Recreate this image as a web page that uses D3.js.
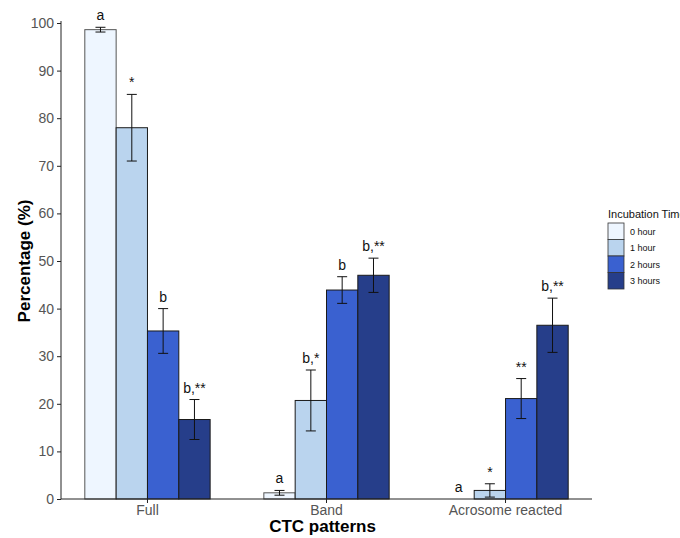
<!DOCTYPE html>
<html>
<head>
<meta charset="utf-8">
<script src="https://cdn.jsdelivr.net/npm/d3@7"></script>
<style>
  body { margin: 0; background: #fff; }
  text { font-family: Arial, "Liberation Sans", sans-serif; }
</style>
</head>
<body>
<div class="canvas"></div>
<script>
// data
const patterns = ['Full', 'Band', 'Acrosome reacted']
const times = ['0 hour', '1 hour', '2 hours', '3 hours']
const colors = ['#eef6ff', '#bad4ee', '#3a61d0', '#263e8a']

// mean per pattern, one array per time
const means = [
  [98.6, 1.3, 0],
  [78.0, 20.7, 1.8],
  [35.3, 43.9, 21.1],
  [16.7, 47.0, 36.5]
]
const errs = [
  [0.5, 0.5, 0],
  [7.0, 6.4, 1.4],
  [4.7, 2.8, 4.2],
  [4.2, 3.6, 5.7]
]
const letters = [
  ['a', 'a', 'a'],
  ['*', 'b,*', '*'],
  ['b', 'b', '**'],
  ['b,**', 'b,**', 'b,**']
]
const yTicks = [0, 10, 20, 30, 40, 50, 60, 70, 80, 90, 100]

const width = 680, height = 538
const margin = {top: 23, left: 61, right: 88, bottom: 39}

const svg = d3.select('.canvas').append('svg')
    .attr('width', width)
    .attr('height', height)

const y = d3.scaleLinear()
    .domain([0, 100])
    .range([height - margin.bottom, margin.top])

const x = d3.scaleBand()
    .domain(patterns)
    .range([margin.left, width - margin.right])
    .paddingInner(0.3)
    .paddingOuter(0.133)

const xs = d3.scaleBand()
    .domain(times)
    .range([0, x.bandwidth()])

// flatten into rows
const rows = []
patterns.forEach((p, pi) => {
  times.forEach((t, ti) => {
    rows.push({p, t, ti, m: means[ti][pi], e: errs[ti][pi], lab: letters[ti][pi]})
  })
})

const graph = svg.append('g')

graph.selectAll('rect.bar')
  .data(rows.filter(d => d.m > 0))
  .enter().append('rect')
    .attr('class', 'bar')
    .attr('x', d => x(d.p) + xs(d.t))
    .attr('y', d => y(d.m))
    .attr('width', xs.bandwidth())
    .attr('height', d => y(0) - y(d.m))
    .attr('fill', d => colors[d.ti])
    .attr('stroke', d => d.ti == 0 ? '#555' : '#1a1a1a')
    .attr('stroke-width', 1)

//error bars
const eb = graph.selectAll('g.err')
  .data(rows.filter(d => d.e > 0))
  .enter().append('g')
    .attr('class', 'err')
    .attr('stroke', '#111')
    .attr('stroke-width', 1)
const cx = d => x(d.p) + xs(d.t) + xs.bandwidth() / 2
eb.append('line')
    .attr('x1', cx).attr('x2', cx)
    .attr('y1', d => y(d.m + d.e)).attr('y2', d => y(Math.max(0, d.m - d.e)))
eb.append('line')
    .attr('x1', d => cx(d) - 5).attr('x2', d => cx(d) + 5)
    .attr('y1', d => y(d.m + d.e)).attr('y2', d => y(d.m + d.e))
eb.append('line')
    .attr('x1', d => cx(d) - 5).attr('x2', d => cx(d) + 5)
    .attr('y1', d => y(Math.max(0, d.m - d.e))).attr('y2', d => y(Math.max(0, d.m - d.e)))

// significance letters
graph.selectAll('text.lab')
  .data(rows)
  .enter().append('text')
    .attr('class', 'lab')
    .attr('x', cx)
    .attr('y', d => y(d.m + d.e) - 7)
    .attr('text-anchor', 'middle')
    .attr('font-size', 14)
    .attr('fill', '#111')
    .text(d => d.lab)

// axes
const yAxis = d3.axisLeft(y).tickValues(yTicks).tickSize(4).tickPadding(3)
const xAxis = d3.axisBottom(x).tickSize(4).tickPadding(2)

const gy = svg.append('g')
    .attr('transform', `translate(${margin.left},0)`)
    .call(yAxis)
gy.select('.domain').attr('d', `M0,${y(0)}V${margin.top - 2}`)

const gx = svg.append('g')
    .attr('transform', `translate(0,${y(0)})`)
    .call(xAxis)
gx.select('.domain').attr('d', `M${margin.left},0H${width - margin.right}`)

svg.selectAll('.tick text').attr('font-size', 14).attr('fill', '#555')
svg.selectAll('.tick line, .domain').attr('stroke', '#222')

svg.append('text')
    .attr('x', (margin.left + width - margin.right) / 2 - 4)
    .attr('y', 532)
    .attr('text-anchor', 'middle')
    .attr('font-size', 17)
    .attr('font-weight', 'bold')
    .text('CTC patterns')

svg.append('text')
    .attr('transform', `translate(30,${y(50)}) rotate(-90)`)
    .attr('text-anchor', 'middle')
    .attr('font-size', 17)
    .attr('font-weight', 'bold')
    .text('Percentage (%)')

// legend
const legend = svg.append('g').attr('transform', 'translate(608,223)')
legend.append('text')
    .attr('x', 0).attr('y', -5)
    .attr('font-size', 11)
    .attr('fill', '#111')
    .text('Incubation Time')
const item = legend.selectAll('g.item')
  .data(times)
  .enter().append('g')
    .attr('transform', (d, i) => `translate(0,${i * 16.5})`)
item.append('rect')
    .attr('width', 16).attr('height', 16.5)
    .attr('fill', (d, i) => colors[i])
    .attr('stroke', '#333')
    .attr('stroke-width', 0.8)
item.append('text')
    .attr('x', 22).attr('y', 11.5)
    .attr('font-size', 9)
    .attr('fill', '#111')
    .text(d => d)
</script>
</body>
</html>
